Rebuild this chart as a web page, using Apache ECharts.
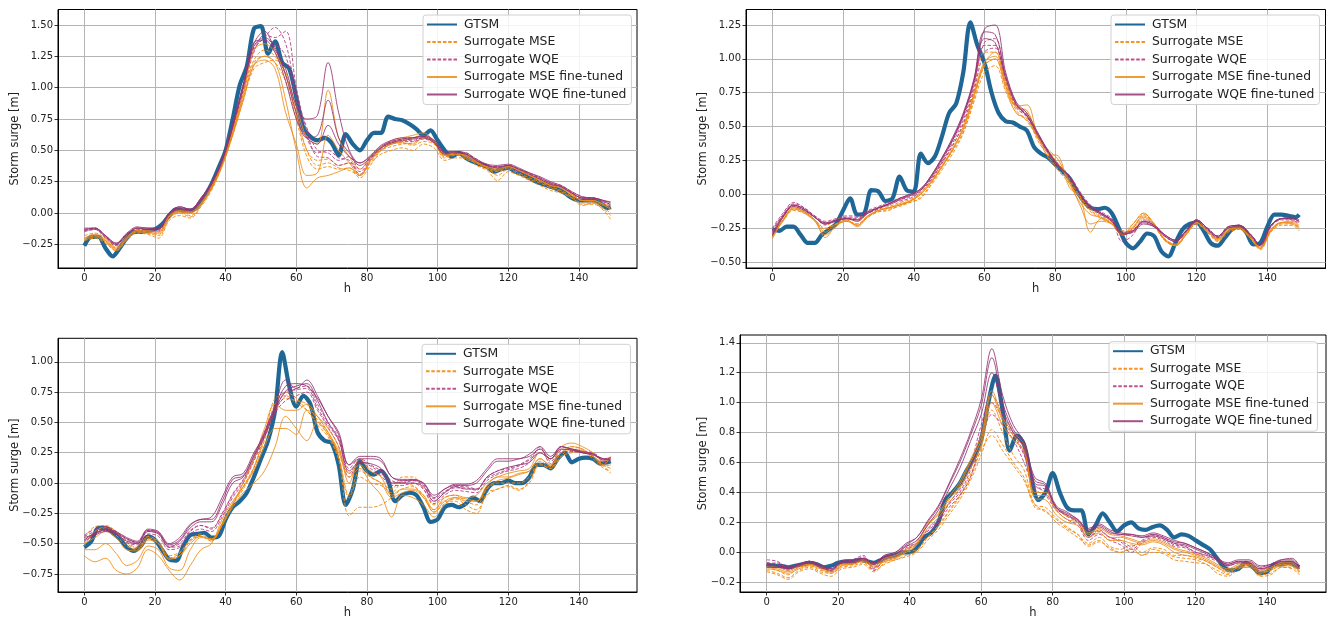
<!DOCTYPE html>
<html><head><meta charset="utf-8">
<script src="https://cdn.jsdelivr.net/npm/echarts@6/dist/echarts.min.js"></script>
<style>html,body{margin:0;padding:0;background:#fff}#c{width:1328px;height:620px}</style>
</head><body><div id="c"></div><script>
// ---------- data ----------
const hours2 = [0,2,4,6,8,10,12,14,16,18,20,22,24,26,28,30,32,34,36,38,40,42,44,46,48,50,52,54,56,58,60,62,64,66,68,70,72,74,76,78,80,82,84,86,88,90,92,94,96,98,100,102,104,106,108,110,112,114,116,118,120,122,124,126,128,130,132,134,136,138,140,142,144,146,148,149];
const hours3 = [0,3,6,9,12,15,18,21,24,27,30,33,36,39,42,45,48,51,54,57,60,63,66,69,72,75,78,81,84,87,90,93,96,99,102,105,108,111,114,117,120,123,126,129,132,135,138,141,144,147,149];
const xTicks = [0,20,40,60,80,100,120,140];
const yTicksTL = [-0.25,0,0.25,0.5,0.75,1.0,1.25,1.5];
const yTicksTR = [-0.5,-0.25,0,0.25,0.5,0.75,1.0,1.25];
const yTicksBL = [-0.75,-0.5,-0.25,0,0.25,0.5,0.75,1.0];
const yTicksBR = [-0.2,0,0.2,0.4,0.6,0.8,1.0,1.2,1.4];
const seriesNames = ['GTSM','Surrogate MSE','Surrogate WQE','Surrogate MSE fine-tuned','Surrogate WQE fine-tuned'];

// Panel top-left
const gtsmTL = [-0.26,-0.19,-0.19,-0.28,-0.345,-0.28,-0.2,-0.15,-0.15,-0.14,-0.13,-0.09,-0.02,0.03,0.02,0.02,0.05,0.13,0.23,0.36,0.5,0.75,1.02,1.17,1.47,1.49,1.27,1.37,1.2,1.15,0.92,0.68,0.61,0.58,0.6,0.56,0.46,0.63,0.55,0.5,0.58,0.64,0.64,0.77,0.75,0.74,0.71,0.67,0.62,0.66,0.58,0.5,0.45,0.48,0.44,0.41,0.39,0.37,0.33,0.35,0.36,0.33,0.31,0.28,0.25,0.23,0.21,0.19,0.16,0.12,0.1,0.1,0.1,0.08,0.04,0.05];
const mseTL = [
 [-0.22,-0.2,-0.24,-0.3,-0.22,-0.16,-0.17,-0.2,-0.06,-0.02,-0.04,0.05,0.18,0.38,0.62,0.9,1.15,1.2,1.22,1.12,0.8,0.5,0.38,0.4,0.36,0.34,0.3,0.4,0.47,0.5,0.52,0.5,0.55,0.52,0.42,0.44,0.44,0.38,0.34,0.26,0.33,0.3,0.26,0.22,0.18,0.16,0.12,0.06,0.08,0.02,-0.05],
 [-0.2,-0.18,-0.22,-0.28,-0.21,-0.15,-0.15,-0.17,-0.04,0.0,-0.03,0.06,0.2,0.4,0.64,0.95,1.2,1.25,1.2,1.05,0.75,0.45,0.35,0.37,0.35,0.36,0.28,0.38,0.5,0.55,0.56,0.54,0.57,0.55,0.44,0.47,0.43,0.4,0.36,0.3,0.35,0.31,0.27,0.24,0.2,0.17,0.12,0.07,0.07,0.03,-0.02],
 [-0.18,-0.16,-0.2,-0.27,-0.19,-0.14,-0.16,-0.18,-0.05,0.01,-0.02,0.07,0.22,0.4,0.66,0.97,1.22,1.3,1.25,1.1,0.78,0.5,0.42,0.43,0.38,0.4,0.3,0.41,0.5,0.53,0.55,0.56,0.6,0.57,0.45,0.46,0.45,0.4,0.35,0.33,0.36,0.32,0.28,0.25,0.21,0.18,0.13,0.08,0.08,0.04,0.0]
];
const wqeTL = [
 [-0.13,-0.12,-0.18,-0.25,-0.18,-0.13,-0.13,-0.13,-0.02,0.03,0.02,0.1,0.22,0.4,0.68,1.0,1.3,1.4,1.48,1.35,0.95,0.68,0.5,0.48,0.42,0.45,0.35,0.44,0.52,0.56,0.58,0.58,0.6,0.57,0.48,0.47,0.48,0.42,0.38,0.36,0.37,0.34,0.31,0.27,0.23,0.21,0.16,0.12,0.12,0.09,0.05],
 [-0.15,-0.13,-0.2,-0.26,-0.19,-0.14,-0.14,-0.14,-0.01,0.03,0.01,0.09,0.21,0.39,0.67,0.98,1.28,1.42,1.4,1.45,1.0,0.65,0.45,0.44,0.38,0.4,0.31,0.42,0.51,0.55,0.57,0.57,0.59,0.56,0.47,0.48,0.46,0.41,0.37,0.35,0.37,0.33,0.3,0.26,0.22,0.2,0.15,0.11,0.11,0.08,0.03],
 [-0.14,-0.12,-0.19,-0.25,-0.17,-0.12,-0.13,-0.12,0.0,0.04,0.03,0.11,0.23,0.41,0.69,1.02,1.32,1.38,1.35,1.25,0.9,0.6,0.48,0.5,0.44,0.42,0.33,0.43,0.52,0.57,0.59,0.6,0.61,0.58,0.49,0.49,0.47,0.43,0.38,0.37,0.38,0.35,0.31,0.28,0.24,0.22,0.17,0.13,0.12,0.1,0.06]
];
const mseFtTL = [
 [-0.21,-0.18,-0.22,-0.29,-0.2,-0.14,-0.15,-0.15,-0.03,0.01,0.0,0.07,0.2,0.38,0.63,0.92,1.18,1.25,1.2,0.9,0.5,0.2,0.28,0.3,0.33,0.36,0.3,0.42,0.5,0.55,0.56,0.55,0.6,0.56,0.46,0.47,0.46,0.41,0.37,0.36,0.37,0.34,0.3,0.26,0.22,0.2,0.15,0.1,0.1,0.07,0.04],
 [-0.2,-0.17,-0.21,-0.28,-0.19,-0.14,-0.14,-0.15,-0.02,0.02,0.01,0.08,0.21,0.4,0.65,0.95,1.3,1.35,1.28,1.1,0.85,0.6,0.55,0.98,0.6,0.45,0.35,0.45,0.52,0.56,0.57,0.6,0.62,0.58,0.47,0.48,0.45,0.4,0.37,0.35,0.38,0.34,0.3,0.27,0.23,0.21,0.15,0.1,0.1,0.07,0.06],
 [-0.22,-0.19,-0.23,-0.3,-0.21,-0.15,-0.16,-0.16,-0.03,0.01,0.0,0.07,0.19,0.37,0.62,0.9,1.18,1.22,1.15,0.8,0.55,0.3,0.32,0.62,0.5,0.4,0.3,0.42,0.52,0.58,0.6,0.62,0.64,0.57,0.46,0.47,0.46,0.41,0.36,0.34,0.37,0.34,0.3,0.26,0.22,0.2,0.14,0.1,0.09,0.06,0.03]
];
const wqeFtTL = [
 [-0.12,-0.12,-0.18,-0.24,-0.17,-0.12,-0.12,-0.12,0.0,0.05,0.03,0.12,0.24,0.42,0.7,1.02,1.35,1.45,1.3,1.15,0.85,0.75,0.78,1.2,0.8,0.5,0.4,0.45,0.53,0.57,0.59,0.6,0.61,0.57,0.48,0.48,0.47,0.42,0.38,0.37,0.38,0.35,0.32,0.28,0.24,0.21,0.16,0.12,0.12,0.1,0.08],
 [-0.14,-0.13,-0.19,-0.25,-0.17,-0.12,-0.13,-0.13,-0.01,0.04,0.02,0.11,0.23,0.41,0.69,1.0,1.33,1.4,1.32,1.1,0.8,0.6,0.62,0.9,0.6,0.48,0.38,0.44,0.52,0.56,0.58,0.59,0.6,0.56,0.47,0.49,0.47,0.42,0.38,0.36,0.38,0.35,0.31,0.27,0.23,0.21,0.16,0.12,0.12,0.09,0.07],
 [-0.13,-0.12,-0.18,-0.24,-0.16,-0.11,-0.12,-0.12,0.0,0.05,0.03,0.12,0.24,0.43,0.71,1.03,1.36,1.38,1.28,1.05,0.75,0.6,0.55,0.7,0.55,0.45,0.4,0.46,0.54,0.58,0.6,0.6,0.62,0.58,0.49,0.49,0.48,0.43,0.39,0.38,0.39,0.36,0.32,0.29,0.25,0.22,0.17,0.13,0.12,0.1,0.09]
];

// Panel top-right
const gtsmTR = [-0.26,-0.27,-0.24,-0.24,-0.3,-0.36,-0.36,-0.3,-0.26,-0.22,-0.12,-0.03,-0.15,-0.14,0.03,0.02,-0.05,-0.03,0.13,0.03,0.02,0.3,0.23,0.28,0.43,0.6,0.67,0.9,1.27,1.1,0.97,0.75,0.6,0.54,0.53,0.5,0.47,0.35,0.3,0.27,0.22,0.17,0.12,0.03,-0.05,-0.1,-0.11,-0.1,-0.14,-0.25,-0.36,-0.4,-0.35,-0.29,-0.31,-0.42,-0.46,-0.36,-0.26,-0.22,-0.21,-0.27,-0.36,-0.38,-0.32,-0.26,-0.24,-0.28,-0.37,-0.36,-0.24,-0.15,-0.15,-0.16,-0.17,-0.15];
const mseTR = [
 [-0.3,-0.2,-0.12,-0.14,-0.19,-0.25,-0.22,-0.2,-0.22,-0.17,-0.13,-0.12,-0.08,-0.06,-0.02,0.08,0.2,0.32,0.46,0.7,0.95,1.0,0.78,0.6,0.56,0.4,0.28,0.18,0.1,-0.02,-0.12,-0.17,-0.22,-0.3,-0.25,-0.15,-0.22,-0.33,-0.38,-0.3,-0.22,-0.28,-0.34,-0.27,-0.25,-0.32,-0.4,-0.27,-0.22,-0.22,-0.24],
 [-0.28,-0.17,-0.09,-0.12,-0.17,-0.23,-0.19,-0.17,-0.2,-0.14,-0.11,-0.09,-0.06,-0.04,0.01,0.11,0.23,0.36,0.52,0.78,1.05,1.05,0.8,0.62,0.54,0.42,0.3,0.2,0.12,-0.01,-0.11,-0.16,-0.2,-0.3,-0.27,-0.18,-0.24,-0.34,-0.37,-0.29,-0.21,-0.27,-0.33,-0.26,-0.24,-0.31,-0.39,-0.26,-0.21,-0.21,-0.26],
 [-0.31,-0.19,-0.11,-0.13,-0.19,-0.26,-0.22,-0.2,-0.22,-0.16,-0.13,-0.11,-0.09,-0.06,-0.03,0.07,0.18,0.3,0.45,0.68,0.9,0.95,0.76,0.6,0.55,0.42,0.27,0.17,0.08,-0.03,-0.13,-0.18,-0.22,-0.27,-0.22,-0.14,-0.22,-0.34,-0.38,-0.3,-0.22,-0.28,-0.35,-0.28,-0.26,-0.32,-0.41,-0.28,-0.23,-0.23,-0.27]
];
const wqeTR = [
 [-0.27,-0.15,-0.07,-0.1,-0.16,-0.21,-0.19,-0.18,-0.18,-0.13,-0.1,-0.07,-0.04,-0.02,0.03,0.12,0.24,0.38,0.55,0.8,1.1,1.1,0.85,0.65,0.58,0.44,0.3,0.2,0.12,0.0,-0.09,-0.14,-0.2,-0.3,-0.28,-0.2,-0.23,-0.3,-0.34,-0.27,-0.19,-0.25,-0.31,-0.24,-0.23,-0.29,-0.37,-0.23,-0.18,-0.18,-0.2],
 [-0.26,-0.16,-0.08,-0.11,-0.17,-0.22,-0.19,-0.17,-0.17,-0.14,-0.11,-0.07,-0.05,-0.03,0.02,0.11,0.23,0.36,0.52,0.76,1.05,1.08,0.83,0.64,0.57,0.43,0.31,0.21,0.13,0.01,-0.1,-0.15,-0.19,-0.35,-0.3,-0.19,-0.22,-0.31,-0.35,-0.28,-0.2,-0.26,-0.32,-0.25,-0.24,-0.3,-0.38,-0.24,-0.19,-0.19,-0.21],
 [-0.25,-0.14,-0.06,-0.1,-0.16,-0.2,-0.18,-0.16,-0.16,-0.12,-0.09,-0.06,-0.03,-0.01,0.04,0.13,0.25,0.4,0.57,0.82,1.12,1.15,0.86,0.66,0.59,0.45,0.32,0.22,0.14,0.02,-0.08,-0.13,-0.18,-0.29,-0.26,-0.2,-0.23,-0.31,-0.35,-0.27,-0.19,-0.25,-0.31,-0.24,-0.23,-0.29,-0.37,-0.23,-0.18,-0.19,-0.22]
];
const mseFtTR = [
 [-0.32,-0.2,-0.11,-0.14,-0.2,-0.3,-0.24,-0.19,-0.24,-0.17,-0.12,-0.1,-0.08,-0.05,0.0,0.09,0.2,0.33,0.48,0.72,0.95,1.0,0.8,0.65,0.66,0.44,0.32,0.22,0.1,-0.08,-0.22,-0.2,-0.22,-0.3,-0.22,-0.14,-0.22,-0.34,-0.38,-0.3,-0.21,-0.27,-0.33,-0.26,-0.25,-0.32,-0.4,-0.27,-0.21,-0.21,-0.24],
 [-0.33,-0.19,-0.1,-0.13,-0.19,-0.32,-0.23,-0.2,-0.23,-0.16,-0.12,-0.1,-0.07,-0.05,0.0,0.09,0.21,0.33,0.5,0.74,0.98,1.02,0.82,0.64,0.62,0.43,0.3,0.28,0.05,-0.02,-0.28,-0.18,-0.22,-0.3,-0.25,-0.17,-0.23,-0.33,-0.37,-0.29,-0.21,-0.27,-0.34,-0.27,-0.25,-0.31,-0.39,-0.26,-0.21,-0.22,-0.25],
 [-0.3,-0.19,-0.1,-0.13,-0.19,-0.28,-0.22,-0.19,-0.23,-0.16,-0.12,-0.1,-0.08,-0.05,0.01,0.1,0.21,0.34,0.48,0.73,0.97,1.05,0.84,0.66,0.6,0.42,0.33,0.25,0.08,-0.06,-0.15,-0.17,-0.21,-0.29,-0.24,-0.16,-0.23,-0.34,-0.38,-0.3,-0.21,-0.27,-0.33,-0.26,-0.24,-0.31,-0.4,-0.27,-0.21,-0.2,-0.23]
];
const wqeFtTR = [
 [-0.29,-0.16,-0.08,-0.11,-0.17,-0.21,-0.2,-0.18,-0.19,-0.13,-0.1,-0.07,-0.03,0.0,0.04,0.14,0.27,0.42,0.6,0.85,1.2,1.18,0.88,0.67,0.58,0.45,0.32,0.21,0.13,0.0,-0.1,-0.14,-0.19,-0.28,-0.27,-0.2,-0.23,-0.3,-0.34,-0.27,-0.19,-0.25,-0.31,-0.24,-0.23,-0.29,-0.37,-0.23,-0.18,-0.17,-0.19],
 [-0.3,-0.17,-0.09,-0.12,-0.17,-0.22,-0.2,-0.18,-0.2,-0.14,-0.1,-0.08,-0.04,-0.01,0.03,0.13,0.26,0.4,0.58,0.83,1.15,1.12,0.86,0.66,0.58,0.44,0.31,0.2,0.13,0.0,-0.1,-0.15,-0.2,-0.3,-0.27,-0.21,-0.24,-0.31,-0.35,-0.28,-0.2,-0.26,-0.32,-0.25,-0.24,-0.3,-0.38,-0.24,-0.18,-0.18,-0.2],
 [-0.31,-0.17,-0.08,-0.11,-0.17,-0.22,-0.19,-0.18,-0.19,-0.14,-0.1,-0.07,-0.03,0.0,0.04,0.14,0.27,0.41,0.59,0.84,1.22,1.25,0.9,0.68,0.6,0.46,0.32,0.21,0.13,0.0,-0.09,-0.14,-0.19,-0.29,-0.28,-0.22,-0.24,-0.3,-0.34,-0.27,-0.19,-0.25,-0.31,-0.24,-0.23,-0.29,-0.37,-0.23,-0.18,-0.18,-0.2]
];

// Panel bottom-left
const gtsmBL = [-0.53,-0.48,-0.37,-0.37,-0.41,-0.46,-0.53,-0.56,-0.52,-0.44,-0.47,-0.55,-0.63,-0.64,-0.52,-0.43,-0.42,-0.41,-0.45,-0.44,-0.3,-0.2,-0.15,-0.08,0.05,0.2,0.35,0.6,1.08,0.8,0.63,0.72,0.65,0.42,0.35,0.33,0.15,-0.18,-0.05,0.18,0.1,0.07,0.1,0.02,-0.15,-0.1,-0.08,-0.1,-0.2,-0.32,-0.3,-0.2,-0.18,-0.2,-0.17,-0.12,-0.15,-0.05,0.0,0.0,0.02,0.0,0.0,0.05,0.15,0.15,0.12,0.2,0.25,0.17,0.2,0.21,0.2,0.16,0.17,0.18];
const mseBL = [
 [-0.5,-0.4,-0.36,-0.4,-0.5,-0.54,-0.45,-0.5,-0.62,-0.6,-0.48,-0.44,-0.47,-0.35,-0.18,-0.05,0.12,0.4,0.65,0.75,0.7,0.6,0.5,0.4,0.2,-0.27,-0.2,-0.2,-0.18,-0.12,-0.05,-0.03,-0.12,-0.22,-0.15,-0.15,-0.22,-0.25,-0.08,-0.05,-0.02,-0.05,0.0,0.15,0.12,0.22,0.25,0.26,0.2,0.12,0.1],
 [-0.45,-0.36,-0.35,-0.4,-0.49,-0.53,-0.44,-0.48,-0.6,-0.57,-0.47,-0.42,-0.48,-0.33,-0.17,-0.03,0.13,0.35,0.6,0.7,0.68,0.65,0.52,0.42,0.22,-0.1,0.1,0.05,0.0,-0.05,0.05,0.05,-0.05,-0.18,-0.12,-0.1,-0.15,-0.18,-0.05,0.0,0.0,0.0,0.05,0.18,0.13,0.25,0.28,0.27,0.22,0.15,0.12],
 [-0.52,-0.4,-0.37,-0.43,-0.52,-0.55,-0.46,-0.48,-0.62,-0.58,-0.47,-0.44,-0.48,-0.34,-0.17,-0.03,0.13,0.38,0.7,0.72,0.66,0.6,0.48,0.38,0.2,-0.12,0.05,0.0,-0.02,-0.08,0.0,-0.02,-0.1,-0.24,-0.17,-0.13,-0.18,-0.22,-0.1,-0.05,-0.03,-0.06,0.02,0.16,0.12,0.22,0.3,0.28,0.22,0.14,0.08]
];
const wqeBL = [
 [-0.44,-0.4,-0.38,-0.41,-0.47,-0.5,-0.4,-0.42,-0.53,-0.52,-0.4,-0.35,-0.38,-0.25,-0.1,0.02,0.2,0.4,0.6,0.72,0.78,0.8,0.65,0.5,0.38,0.12,0.2,0.15,0.1,0.02,0.0,0.02,-0.02,-0.15,-0.08,-0.04,-0.04,-0.06,0.05,0.1,0.12,0.15,0.2,0.28,0.18,0.27,0.28,0.26,0.25,0.2,0.2],
 [-0.47,-0.42,-0.39,-0.42,-0.49,-0.51,-0.42,-0.44,-0.55,-0.53,-0.42,-0.38,-0.4,-0.28,-0.12,0.0,0.18,0.38,0.58,0.68,0.72,0.75,0.6,0.46,0.3,0.05,0.17,0.12,0.06,-0.02,-0.02,0.0,-0.05,-0.17,-0.1,-0.06,-0.07,-0.08,0.02,0.07,0.1,0.12,0.17,0.3,0.16,0.25,0.26,0.25,0.24,0.17,0.18],
 [-0.43,-0.38,-0.36,-0.4,-0.46,-0.49,-0.39,-0.41,-0.52,-0.5,-0.39,-0.35,-0.37,-0.26,-0.09,0.03,0.2,0.42,0.62,0.75,0.77,0.78,0.62,0.48,0.35,0.08,0.18,0.14,0.08,0.0,0.01,0.03,-0.01,-0.13,-0.07,-0.03,-0.03,-0.05,0.04,0.08,0.11,0.14,0.19,0.25,0.2,0.3,0.27,0.25,0.24,0.19,0.21]
];
const mseFtBL = [
 [-0.6,-0.65,-0.62,-0.72,-0.75,-0.7,-0.55,-0.6,-0.72,-0.8,-0.68,-0.55,-0.5,-0.3,-0.15,-0.03,0.1,0.3,0.45,0.45,0.4,0.6,0.55,0.45,0.3,0.0,0.2,0.1,0.05,-0.1,-0.05,-0.05,-0.1,-0.22,-0.12,-0.1,-0.12,-0.1,0.0,0.05,0.08,0.1,0.12,0.25,0.2,0.3,0.33,0.3,0.25,0.18,0.2],
 [-0.55,-0.55,-0.5,-0.58,-0.68,-0.64,-0.52,-0.55,-0.7,-0.72,-0.55,-0.45,-0.46,-0.34,-0.2,-0.08,0.0,0.1,0.3,0.55,0.45,0.35,0.5,0.4,0.25,0.05,0.12,0.0,-0.1,-0.28,-0.1,-0.12,-0.18,-0.28,-0.18,-0.12,-0.15,-0.15,-0.02,0.05,0.05,0.08,0.1,0.2,0.15,0.25,0.3,0.28,0.22,0.15,0.22],
 [-0.5,-0.45,-0.4,-0.45,-0.55,-0.56,-0.47,-0.5,-0.63,-0.6,-0.5,-0.44,-0.46,-0.35,-0.18,0.0,0.2,0.45,0.65,0.6,0.6,0.65,0.55,0.42,0.27,0.08,0.15,0.05,0.0,-0.12,-0.08,-0.06,-0.12,-0.24,-0.15,-0.12,-0.13,-0.15,-0.04,0.02,0.04,0.07,0.1,0.2,0.14,0.28,0.27,0.26,0.22,0.14,0.15]
];
const wqeFtBL = [
 [-0.45,-0.42,-0.38,-0.4,-0.45,-0.48,-0.38,-0.4,-0.5,-0.45,-0.34,-0.3,-0.28,-0.12,0.05,0.08,0.25,0.4,0.62,0.8,0.82,0.8,0.7,0.55,0.4,0.15,0.2,0.2,0.18,0.05,0.02,0.02,0.0,-0.12,-0.05,-0.02,-0.02,0.0,0.1,0.18,0.18,0.2,0.22,0.28,0.2,0.3,0.28,0.26,0.24,0.2,0.21],
 [-0.48,-0.43,-0.4,-0.42,-0.48,-0.5,-0.4,-0.42,-0.53,-0.48,-0.37,-0.32,-0.32,-0.18,0.0,0.05,0.22,0.38,0.6,0.76,0.8,0.82,0.68,0.5,0.36,0.1,0.17,0.16,0.12,0.0,0.0,0.0,-0.03,-0.15,-0.08,-0.03,-0.05,-0.05,0.05,0.1,0.13,0.15,0.17,0.25,0.2,0.28,0.27,0.25,0.24,0.19,0.2],
 [-0.47,-0.41,-0.39,-0.41,-0.46,-0.49,-0.39,-0.41,-0.51,-0.47,-0.35,-0.3,-0.3,-0.15,0.03,0.06,0.23,0.42,0.64,0.85,0.78,0.85,0.72,0.55,0.42,0.15,0.22,0.22,0.2,0.05,0.03,0.03,0.0,-0.1,-0.05,-0.01,-0.01,0.02,0.12,0.2,0.2,0.2,0.24,0.3,0.22,0.3,0.28,0.25,0.23,0.2,0.19]
];

// Panel bottom-right
const gtsmBR = [-0.08,-0.09,-0.09,-0.1,-0.09,-0.08,-0.07,-0.08,-0.1,-0.09,-0.07,-0.06,-0.06,-0.05,-0.06,-0.07,-0.05,-0.03,-0.02,0.0,0.0,0.03,0.1,0.13,0.2,0.35,0.4,0.46,0.55,0.63,0.75,1.0,1.18,0.95,0.68,0.78,0.72,0.5,0.35,0.4,0.53,0.4,0.3,0.28,0.28,0.12,0.18,0.26,0.2,0.14,0.18,0.2,0.16,0.15,0.17,0.18,0.15,0.1,0.12,0.11,0.08,0.05,0.02,-0.04,-0.1,-0.12,-0.11,-0.07,-0.1,-0.14,-0.13,-0.08,-0.08,-0.07,-0.09,-0.1];
const mseBR = [
 [-0.12,-0.14,-0.17,-0.12,-0.1,-0.13,-0.14,-0.1,-0.09,-0.07,-0.12,-0.08,-0.05,-0.03,0.0,0.08,0.15,0.25,0.35,0.48,0.65,0.82,0.72,0.6,0.5,0.3,0.28,0.2,0.15,0.1,0.05,0.08,0.02,0.0,0.03,-0.02,0.02,0.0,-0.03,-0.04,-0.05,-0.08,-0.12,-0.15,-0.1,-0.1,-0.15,-0.14,-0.1,-0.1,-0.14],
 [-0.1,-0.12,-0.15,-0.1,-0.09,-0.12,-0.13,-0.09,-0.08,-0.06,-0.1,-0.06,-0.04,0.0,0.02,0.1,0.18,0.28,0.38,0.52,0.68,0.78,0.68,0.58,0.48,0.32,0.27,0.22,0.16,0.12,0.06,0.1,0.04,0.02,0.05,0.0,0.03,0.02,-0.02,-0.02,-0.04,-0.06,-0.1,-0.14,-0.09,-0.08,-0.13,-0.12,-0.08,-0.09,-0.13],
 [-0.13,-0.15,-0.18,-0.13,-0.11,-0.14,-0.16,-0.11,-0.1,-0.08,-0.13,-0.07,-0.05,-0.02,0.01,0.1,0.17,0.27,0.37,0.5,0.7,0.95,0.8,0.65,0.55,0.32,0.3,0.23,0.17,0.12,0.04,0.07,0.03,0.0,0.02,-0.02,0.0,-0.01,-0.05,-0.06,-0.07,-0.08,-0.14,-0.16,-0.11,-0.1,-0.16,-0.15,-0.1,-0.11,-0.15]
];
const wqeBR = [
 [-0.05,-0.06,-0.1,-0.08,-0.06,-0.08,-0.12,-0.06,-0.06,-0.03,-0.1,-0.03,-0.02,0.03,0.06,0.15,0.22,0.32,0.4,0.55,0.8,1.0,0.9,0.78,0.65,0.45,0.4,0.3,0.25,0.2,0.1,0.15,0.1,0.08,0.04,0.08,0.12,0.1,0.06,0.04,0.0,-0.02,-0.05,-0.08,-0.06,-0.08,-0.11,-0.1,-0.06,-0.06,-0.11],
 [-0.07,-0.08,-0.12,-0.09,-0.07,-0.09,-0.13,-0.07,-0.06,-0.04,-0.12,-0.05,-0.03,0.02,0.05,0.12,0.2,0.3,0.38,0.5,0.75,0.92,0.85,0.75,0.6,0.42,0.38,0.28,0.22,0.18,0.08,0.12,0.08,0.05,0.0,0.06,0.1,0.08,0.04,0.03,-0.01,-0.03,-0.06,-0.09,-0.07,-0.09,-0.12,-0.1,-0.07,-0.07,-0.12],
 [-0.08,-0.07,-0.11,-0.08,-0.06,-0.1,-0.12,-0.06,-0.05,-0.02,-0.11,-0.04,-0.02,0.04,0.06,0.14,0.21,0.33,0.42,0.58,0.85,1.05,0.92,0.8,0.66,0.44,0.42,0.3,0.24,0.2,0.1,0.14,0.1,0.07,0.02,0.07,0.11,0.09,0.05,0.04,0.0,-0.02,-0.05,-0.08,-0.06,-0.08,-0.11,-0.09,-0.06,-0.06,-0.1]
];
const mseFtBR = [
 [-0.1,-0.11,-0.13,-0.1,-0.08,-0.1,-0.13,-0.08,-0.08,-0.05,-0.09,-0.05,-0.03,0.01,0.06,0.18,0.25,0.35,0.45,0.6,0.75,1.05,0.88,0.78,0.7,0.38,0.38,0.28,0.22,0.2,0.12,0.15,0.1,0.1,0.08,0.06,0.08,0.06,0.02,0.0,-0.02,-0.05,-0.09,-0.12,-0.09,-0.08,-0.13,-0.11,-0.08,-0.08,-0.12],
 [-0.11,-0.12,-0.14,-0.11,-0.09,-0.11,-0.14,-0.09,-0.08,-0.06,-0.1,-0.06,-0.04,0.0,0.05,0.16,0.23,0.33,0.43,0.56,0.72,1.0,0.85,0.75,0.68,0.36,0.35,0.25,0.2,0.18,0.1,0.13,0.08,0.08,0.06,0.05,0.07,0.05,0.0,-0.02,-0.03,-0.06,-0.1,-0.13,-0.1,-0.09,-0.14,-0.12,-0.09,-0.09,-0.13],
 [-0.09,-0.1,-0.12,-0.09,-0.08,-0.1,-0.12,-0.08,-0.07,-0.05,-0.08,-0.04,-0.02,0.02,0.07,0.19,0.26,0.37,0.47,0.62,0.78,1.08,0.9,0.8,0.72,0.4,0.4,0.3,0.24,0.22,0.13,0.16,0.12,0.11,0.09,0.07,0.09,0.07,0.03,0.01,-0.01,-0.04,-0.08,-0.11,-0.08,-0.07,-0.12,-0.1,-0.07,-0.07,-0.11]
];
const wqeFtBR = [
 [-0.09,-0.09,-0.1,-0.08,-0.06,-0.09,-0.11,-0.06,-0.06,-0.04,-0.07,-0.02,0.0,0.05,0.1,0.2,0.3,0.45,0.6,0.78,0.98,1.3,1.0,0.82,0.72,0.48,0.45,0.3,0.26,0.22,0.15,0.18,0.14,0.12,0.12,0.1,0.12,0.1,0.07,0.06,0.03,0.0,-0.04,-0.08,-0.06,-0.06,-0.1,-0.08,-0.05,-0.05,-0.1],
 [-0.1,-0.1,-0.11,-0.09,-0.07,-0.1,-0.12,-0.07,-0.07,-0.05,-0.08,-0.03,-0.01,0.04,0.08,0.18,0.28,0.42,0.56,0.74,0.92,1.2,0.96,0.8,0.7,0.46,0.44,0.29,0.25,0.21,0.14,0.17,0.13,0.12,0.11,0.1,0.11,0.09,0.06,0.05,0.02,-0.01,-0.05,-0.09,-0.07,-0.07,-0.11,-0.09,-0.06,-0.06,-0.11],
 [-0.08,-0.09,-0.1,-0.08,-0.06,-0.08,-0.11,-0.06,-0.05,-0.04,-0.07,-0.02,0.0,0.06,0.1,0.21,0.31,0.46,0.62,0.8,1.02,1.36,1.05,0.85,0.74,0.5,0.46,0.31,0.27,0.22,0.16,0.19,0.15,0.13,0.12,0.11,0.13,0.11,0.08,0.06,0.03,0.0,-0.04,-0.07,-0.05,-0.05,-0.09,-0.08,-0.05,-0.04,-0.09]
];

// ---------- layout & styles ----------
const FONT = 'DejaVu Sans';
const panels = [
  {grid:{left:58,top:9.5,width:579,height:258.5}, yr:[-0.438,1.623], yTicks:yTicksTL, dec:2, yGap:37, legend:{left:423,top:15},
   d:{gtsm:gtsmTL, mse:mseTL, wqe:wqeTL, mseFt:mseFtTL, wqeFt:wqeFtTL}},
  {grid:{left:746,top:9.5,width:579.5,height:258.5}, yr:[-0.545,1.365], yTicks:yTicksTR, dec:2, yGap:37, legend:{left:1111,top:15},
   d:{gtsm:gtsmTR, mse:mseTR, wqe:wqeTR, mseFt:mseFtTR, wqeFt:wqeFtTR}},
  {grid:{left:58,top:338.3,width:579,height:258.4}, yr:[-0.899,1.194], yTicks:yTicksBL, dec:2, yGap:37.5, legend:{left:422,top:344.3},
   d:{gtsm:gtsmBL, mse:mseBL, wqe:wqeBL, mseFt:mseFtBL, wqeFt:wqeFtBL}},
  {grid:{left:740,top:335,width:586,height:261.7}, yr:[-0.265,1.452], yTicks:yTicksBR, dec:1, yGap:31, legend:{left:1109,top:341.7},
   d:{gtsm:gtsmBR, mse:mseBR, wqe:wqeBR, mseFt:mseFtBR, wqeFt:wqeFtBR}}
];
const styles = {
  gtsm:  {color:'#1f6796', width:4.2, type:'solid', opacity:1},
  mse:   {color:'#f5870a', width:1, type:[3.5,1.8], opacity:0.9},
  wqe:   {color:'#b3357f', width:1, type:[3.5,1.8], opacity:0.85},
  mseFt: {color:'#ec8b14', width:1, type:'solid', opacity:0.85},
  wqeFt: {color:'#933371', width:1, type:'solid', opacity:0.85}
};
const nameOf = {gtsm:seriesNames[0], mse:seriesNames[1], wqe:seriesNames[2], mseFt:seriesNames[3], wqeFt:seriesNames[4]};
const fmtMinus = s => s.replace('-', '\u2212');

const grids = [], xAxes = [], yAxes = [], legends = [], series = [];
panels.forEach((p, i) => {
  grids.push(Object.assign({show:true, borderColor:'#000', borderWidth:1, backgroundColor:'transparent'}, p.grid));
  xAxes.push({
    gridIndex:i, type:'value', min:-7.45, max:156.45,
    name:'h', nameLocation:'middle', nameGap:15, nameMoveOverlap:false,
    nameTextStyle:{fontFamily:FONT, fontSize:11.5, color:'#222'},
    axisLine:{show:true, onZero:false, lineStyle:{color:'#000', width:1}},
    axisTick:{show:true, inside:false, length:3.5, customValues:xTicks, lineStyle:{color:'#000', width:0.8}},
    axisLabel:{customValues:xTicks, margin:5.5, fontFamily:FONT, fontSize:10, color:'#222', formatter:v=>String(v)},
    splitLine:{show:true, lineStyle:{color:'#b4b4b4', width:1}}
  });
  yAxes.push({
    gridIndex:i, type:'value', min:p.yr[0], max:p.yr[1],
    name:'Storm surge [m]', nameLocation:'middle', nameGap:p.yGap, nameMoveOverlap:false,
    nameTextStyle:{fontFamily:FONT, fontSize:11.4, color:'#222'},
    axisLine:{show:true, onZero:false, lineStyle:{color:'#000', width:1}},
    axisTick:{show:true, inside:false, length:3.5, customValues:p.yTicks, lineStyle:{color:'#000', width:0.8}},
    axisLabel:{customValues:p.yTicks, margin:5, fontFamily:FONT, fontSize:10, color:'#222', formatter:v=>fmtMinus(Number(v).toFixed(p.dec))},
    splitLine:{show:true, lineStyle:{color:'#b4b4b4', width:1}}
  });
  legends.push({
    orient:'vertical', left:p.legend.left, top:p.legend.top, data:seriesNames,
    itemWidth:30, itemHeight:13, itemGap:5.5, padding:[3.5,5,4,3],
    itemStyle:{opacity:0, borderWidth:0},
    backgroundColor:'rgba(255,255,255,0.85)', borderColor:'#d0d0d0', borderWidth:1, borderRadius:3,
    selectedMode:false,
    textStyle:{fontFamily:FONT, fontSize:12.4, color:'#222', padding:[0,0,0,2]}
  });
  const mk = (key, vals, hrs) => {
    const s = styles[key];
    series.push({
      type:'line', name:nameOf[key], xAxisIndex:i, yAxisIndex:i,
      data: vals.map((v, k) => [hrs[k], v]),
      symbol:'none', showSymbol:false, smooth: key==='gtsm' ? 0.3 : 0.35, animation:false, silent:true,
      lineStyle:{color:s.color, width:s.width, type:s.type, opacity:s.opacity},
      itemStyle:{color:s.color}
    });
  };
  mk('gtsm', p.d.gtsm, hours2);
  ['mse','wqe','mseFt','wqeFt'].forEach(key => p.d[key].forEach(arr => mk(key, arr, hours3)));
});

const chart = echarts.init(document.getElementById('c'), null, {renderer:'canvas'});
chart.setOption({
  animation:false, backgroundColor:'#fff',
  textStyle:{fontFamily:FONT},
  grid:grids, xAxis:xAxes, yAxis:yAxes, legend:legends, series:series
});
</script></body></html>
